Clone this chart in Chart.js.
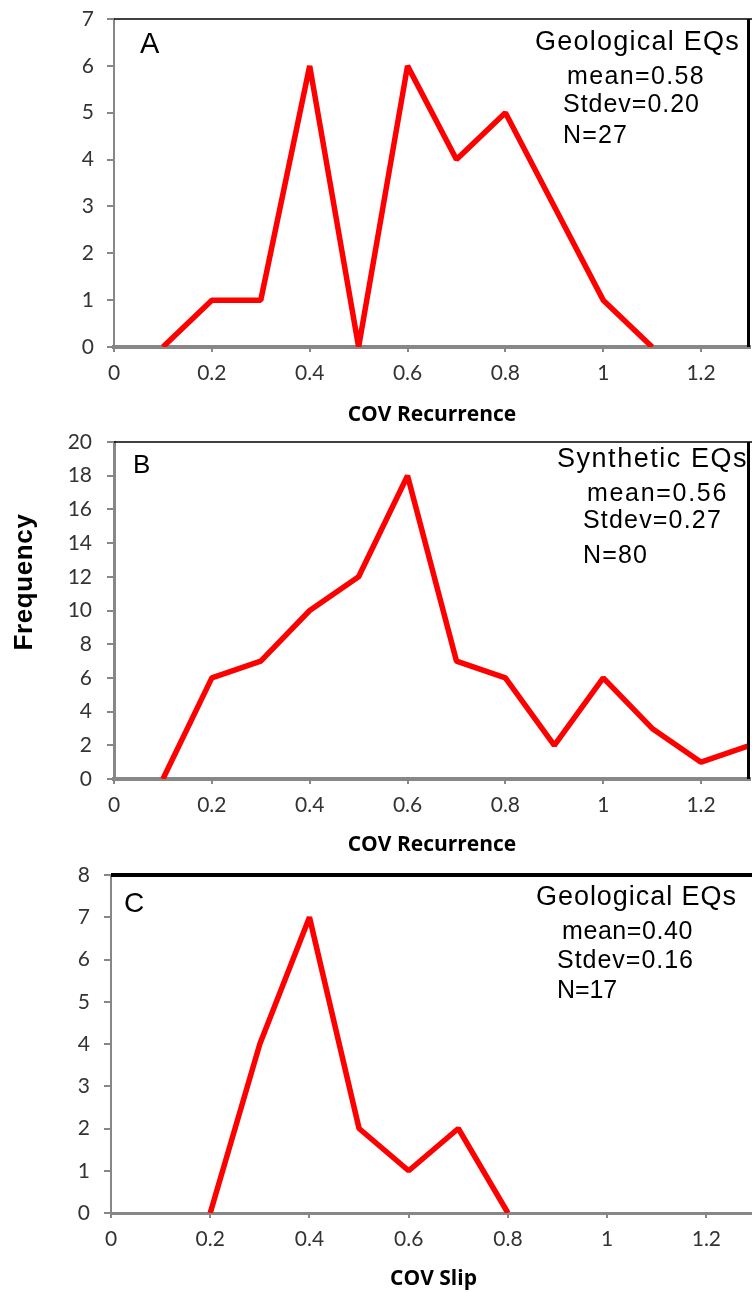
<!DOCTYPE html>
<html>
<head>
<meta charset="utf-8">
<script src="https://cdn.jsdelivr.net/npm/chart.js@4.4.1/dist/chart.umd.min.js"></script>
<style>
  html, body { margin: 0; padding: 0; background: #fff; overflow: hidden; width: 752px; height: 1292px; }
  canvas { position: absolute; left: 0; }
</style>
</head>
<body>
<canvas id="chartA" width="752" height="430" style="top:0px"></canvas>
<canvas id="chartB" width="752" height="430" style="top:430px"></canvas>
<canvas id="chartC" width="760" height="432" style="top:860px"></canvas>
<script>
// panel A - geological EQs, COV of recurrence
const covA = [0.1, 0.2, 0.3, 0.4, 0.5, 0.6, 0.7, 0.8, 0.9, 1.0, 1.1];
const freqA = [0, 1, 1, 6, 0, 6, 4, 5, 3, 1, 0];
const statsA = ["mean=0.58", "Stdev=0.20", "N=27"];

// panel B - synthetic EQs, COV of recurrence
const covB = [0.1, 0.2, 0.3, 0.4, 0.5, 0.6, 0.7, 0.8, 0.9, 1.0, 1.1, 1.2, 1.3];
const freqB = [0, 6, 7, 10, 12, 18, 7, 6, 2, 6, 3, 1, 2];
const statsB = ["mean=0.56", "Stdev=0.27", "N=80"];

// panel C - geological EQs, COV of slip
const covC = [0.2, 0.3, 0.4, 0.5, 0.6, 0.7, 0.8];
const freqC = [0, 4, 7, 2, 1, 2, 0];
const statsC = ["mean=0.40", "Stdev=0.16", "N=17"];

const AXIS = "#878787";
const TICK_COLOR = "#333";
const TICK_FONT = { family: "Lato", size: 21 };

// top / right black frame lines
function framePlugin(topW, rightW) {
  return {
    id: "frame",
    afterDraw(chart) {
      const { ctx, chartArea: a } = chart;
      ctx.save();
      ctx.strokeStyle = "#000";
      ctx.lineWidth = topW;
      ctx.beginPath();
      ctx.moveTo(a.left, a.top);
      ctx.lineTo(chart.width, a.top);
      ctx.stroke();
      if (rightW) {
        ctx.lineWidth = rightW;
        ctx.beginPath();
        ctx.moveTo(a.right - rightW / 2, a.top);
        ctx.lineTo(a.right - rightW / 2, a.bottom);
        ctx.stroke();
      }
      ctx.restore();
    }
  };
}

// text notes inside the panel (letter, header, stats)
function notesPlugin(items) {
  return {
    id: "notes",
    afterDraw(chart) {
      const ctx = chart.ctx;
      items.forEach(t => {
        ctx.save();
        ctx.fillStyle = "#000";
        ctx.textBaseline = "alphabetic";
        ctx.font = t.font;
        ctx.letterSpacing = "0px";
        if (t.width) {
          const w = ctx.measureText(t.text).width;
          ctx.letterSpacing = ((t.width - w) / t.text.length) + "px";
        }
        if (t.rotate) {
          ctx.translate(t.x, t.y);
          ctx.rotate(-Math.PI / 2);
          ctx.textAlign = "center";
          ctx.textBaseline = "middle";
          ctx.fillText(t.text, 0, 0);
        } else {
          ctx.fillText(t.text, t.x, t.y);
        }
        ctx.restore();
      });
    }
  };
}

function xScale(title, o) {
  return {
    type: "linear",
    min: 0,
    max: 1.3,
    afterFit: s => { s.height = o.h; },
    border: { color: AXIS, width: o.bw },
    grid: { drawOnChartArea: false, color: AXIS, lineWidth: 2, tickLength: 5 },
    ticks: {
      stepSize: 0.2,
      includeBounds: false,
      autoSkip: false,
      maxRotation: 0,
      padding: 9,
      color: TICK_COLOR,
      font: TICK_FONT,
      callback: v => String(+v.toFixed(1))
    },
    title: {
      display: true,
      text: title,
      color: "#000",
      font: { family: "Open Sans", size: 21, weight: "bold" },
      padding: { top: 0, bottom: o.tp }
    }
  };
}

function yScale(max, step, o) {
  return {
    min: 0,
    max: max,
    afterFit: s => { s.width = o.w; s.paddingTop = 0; s.paddingBottom = 0; },
    border: { color: AXIS, width: o.bw },
    grid: { drawOnChartArea: false, color: AXIS, lineWidth: 2, tickLength: 7 },
    ticks: { stepSize: step, padding: o.pad, color: TICK_COLOR, font: TICK_FONT }
  };
}

function makeChart(id, xs, ys, cfg) {
  return new Chart(document.getElementById(id), {
    type: "line",
    data: {
      datasets: [{
        data: xs.map((x, i) => ({ x: x, y: ys[i] })),
        borderColor: "#ff0000",
        borderWidth: 5.5,
        borderJoinStyle: "bevel",
        pointRadius: 0,
        tension: 0,
        fill: false
      }]
    },
    options: {
      responsive: false,
      animation: false,
      events: [],
      layout: { padding: cfg.padding },
      plugins: { legend: { display: false }, tooltip: { enabled: false } },
      scales: { x: cfg.x, y: cfg.y }
    },
    plugins: [framePlugin(cfg.topW, cfg.rightW), notesPlugin(cfg.notes)]
  });
}

const HEAD = "27px 'Liberation Sans', Arial, sans-serif";
const STAT = "25px 'Liberation Sans', Arial, sans-serif";

makeChart("chartA", covA, freqA, {
  padding: { top: 19, right: 2, left: 0, bottom: 0 },
  x: xScale("COV Recurrence", { h: 83, bw: 4, tp: 2 }),
  y: yScale(7, 1, { w: 114, bw: 2, pad: 13 }),
  topW: 1.5,
  rightW: 3,
  notes: [
    { text: "A", x: 140, y: 53, font: "29px 'Liberation Sans', Arial, sans-serif" },
    { text: "Geological EQs", x: 535, y: 50, font: HEAD, width: 205 },
    { text: statsA[0], x: 567, y: 84, font: STAT, width: 138 },
    { text: statsA[1], x: 563, y: 112, font: STAT, width: 137 },
    { text: statsA[2], x: 563, y: 143, font: STAT, width: 65 }
  ]
});

makeChart("chartB", covB, freqB, {
  padding: { top: 12, right: 2, left: 0, bottom: 0 },
  x: xScale("COV Recurrence", { h: 81, bw: 4, tp: 2 }),
  y: yScale(20, 2, { w: 114, bw: 3, pad: 15 }),
  topW: 1.5,
  rightW: 3,
  notes: [
    { text: "B", x: 133, y: 43, font: "26px 'Liberation Sans', Arial, sans-serif" },
    { text: "Synthetic EQs", x: 557, y: 37, font: HEAD, width: 191 },
    { text: statsB[0], x: 587, y: 71, font: STAT, width: 141 },
    { text: statsB[1], x: 583, y: 98, font: STAT, width: 139 },
    { text: statsB[2], x: 583, y: 133, font: STAT, width: 65 },
    { text: "Frequency", x: 25, y: 152, font: "bold 26px 'Liberation Sans', Arial, sans-serif", rotate: true, width: 137 }
  ]
});

makeChart("chartC", covC, freqC, {
  padding: { top: 15, right: 4, left: 0, bottom: 0 },
  x: xScale("COV Slip", { h: 79, bw: 3, tp: 0 }),
  y: yScale(8, 1, { w: 111, bw: 2, pad: 14 }),
  topW: 4,
  rightW: 0,
  notes: [
    { text: "C", x: 124, y: 52, font: "28px 'Liberation Sans', Arial, sans-serif" },
    { text: "Geological EQs", x: 536, y: 45, font: HEAD, width: 201 },
    { text: statsC[0], x: 562, y: 79, font: STAT, width: 131 },
    { text: statsC[1], x: 557, y: 108, font: STAT, width: 137 },
    { text: statsC[2], x: 557, y: 138, font: STAT, width: 60 }
  ]
});
</script>
</body>
</html>
